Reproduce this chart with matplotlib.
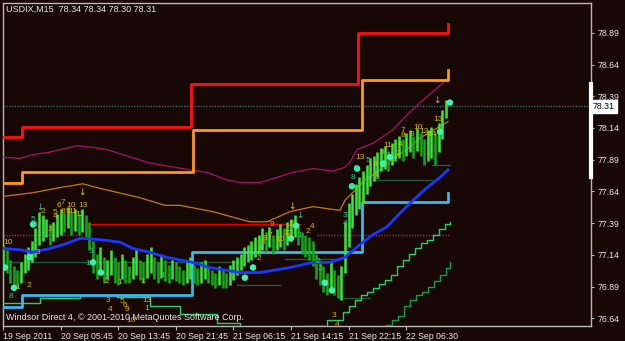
import numpy as np
import matplotlib
matplotlib.use("Agg")
import matplotlib.pyplot as plt
from matplotlib import font_manager
import matplotlib.transforms as mtransforms

# ---------------- font ----------------
fam = "DejaVu Sans"
for cand in ["Liberation Sans Narrow", "Liberation Sans"]:
    try:
        font_manager.findfont(cand, fallback_to_default=False)
        fam = cand
        break
    except Exception:
        pass
plt.rcParams["font.family"] = [fam, "DejaVu Sans"]

# ---------------- data ----------------
title_text = "USDIX,M15  78.34 78.34 78.30 78.31"
footer_text = "Windsor Direct 4, \u00a9 2001-2010 MetaQuotes Software Corp."
last_price = 78.31

x_tick_bars = [0, 32, 64, 96, 128, 160, 192, 224]
x_tick_labels = ["19 Sep 2011", "20 Sep 05:45", "20 Sep 13:45", "20 Sep 21:45",
                 "21 Sep 06:15", "21 Sep 14:15", "21 Sep 22:15", "22 Sep 06:30"]
y_tick_values = [76.64, 76.89, 77.14, 77.39, 77.64, 77.89, 78.14, 78.39, 78.64, 78.89]

# price bars (every second M15 bar)
bar_idx = list(range(0, 248, 2))
bar_high = [77.22, 77.18, 77.10, 77.05, 77.02, 77.08, 77.15, 77.20, 77.25, 77.35,
            77.48, 77.45, 77.42, 77.38, 77.40, 77.46, 77.50, 77.47, 77.52, 77.48,
            77.50, 77.46, 77.50, 77.45, 77.40, 77.25, 77.15, 77.20, 77.12, 77.10,
            77.18, 77.12, 77.08, 77.15, 77.10, 77.05, 77.12, 77.18, 77.10, 77.08,
            77.15, 77.20, 77.12, 77.08, 77.14, 77.10, 77.06, 77.10, 77.08, 77.05,
            77.02, 77.08, 77.12, 77.06, 77.04, 77.08, 77.10, 77.05, 77.02, 77.00,
            77.05, 77.02, 77.00, 77.06, 77.10, 77.12, 77.15, 77.20, 77.22, 77.25,
            77.28, 77.30, 77.35, 77.32, 77.36, 77.30, 77.34, 77.38, 77.35, 77.40,
            77.42, 77.45, 77.38, 77.32, 77.30, 77.28, 77.25, 77.15, 77.10, 77.05,
            77.00, 77.08, 77.02, 76.98, 77.05, 77.40, 77.55, 77.62, 77.70, 77.75,
            77.80, 77.85, 77.90, 77.92, 77.95, 77.98, 78.00, 77.96, 78.02, 78.05,
            78.08, 78.05, 78.10, 78.12, 78.08, 78.14, 78.10, 78.05, 78.12, 78.15,
            78.10, 78.18, 78.28, 78.36]
bar_low = [77.05, 77.00, 76.92, 76.90, 76.88, 76.92, 77.00, 77.02, 77.08, 77.12,
           77.22, 77.25, 77.28, 77.22, 77.25, 77.28, 77.30, 77.32, 77.35, 77.30,
           77.33, 77.30, 77.32, 77.28, 77.18, 77.00, 76.95, 77.00, 76.92, 76.95,
           76.98, 76.92, 76.90, 76.95, 76.92, 76.92, 76.95, 76.98, 76.94, 76.92,
           76.96, 77.00, 76.95, 76.92, 76.96, 76.93, 76.92, 76.95, 76.93, 76.92,
           76.90, 76.92, 76.95, 76.92, 76.90, 76.92, 76.95, 76.92, 76.90, 76.88,
           76.90, 76.88, 76.88, 76.90, 76.94, 76.98, 77.02, 77.05, 77.08, 77.10,
           77.12, 77.15, 77.18, 77.16, 77.20, 77.15, 77.18, 77.20, 77.18, 77.22,
           77.25, 77.28, 77.22, 77.15, 77.12, 77.10, 77.05, 76.95, 76.90, 76.85,
           76.82, 76.88, 76.82, 76.80, 76.78, 77.00, 77.20, 77.35, 77.45, 77.50,
           77.55, 77.62, 77.68, 77.72, 77.75, 77.80, 77.82, 77.80, 77.85, 77.88,
           77.90, 77.88, 77.92, 77.95, 77.90, 77.96, 77.92, 77.85, 77.88, 77.90,
           77.85, 77.95, 78.05, 78.22]

# step bands
red_band_x = [0, 10.6, 104.5, 197.0, 245.5, 247.5]
red_band_y = [78.07, 78.15, 78.49, 78.89, 78.89, 78.96]
orange_band_x = [0, 10.6, 105.5, 199.5, 245.5, 247.5]
orange_band_y = [77.71, 77.79, 78.12, 78.52, 78.52, 78.60]
cyan_band_x = [0, 10.6, 105.0, 199.5, 245.5, 247.5]
cyan_band_y = [76.73, 76.82, 77.16, 77.56, 77.56, 77.63]

# thin envelope lines
magenta_x = [0, 9.4, 16.7, 26.1, 41.1, 48.3, 57.8, 68.9, 80, 91.1, 103.9, 113.3, 124.4,
             131.7, 142.8, 152.2, 161.1, 172.2, 183.3, 190, 192.8, 196.7, 205.6, 216.1,
             224.4, 231.7, 240, 247.2]
magenta_y = [77.91, 77.90, 77.93, 77.95, 78.00, 77.99, 77.97, 77.92, 77.87, 77.84, 77.81,
             77.79, 77.73, 77.71, 77.71, 77.75, 77.79, 77.82, 77.80, 77.83, 77.87, 77.97,
             78.02, 78.12, 78.24, 78.34, 78.44, 78.53]
brown_x = [0, 16.7, 31.7, 44.4, 52.2, 61.1, 76.1, 90, 98.3, 116.7, 137.2, 146.7, 159.4,
           172.2, 187.2, 190, 195.6, 201.1, 209.4, 216.7, 224.4, 231.7, 238.9, 247.2]
brown_y = [77.60, 77.63, 77.67, 77.70, 77.67, 77.64, 77.59, 77.53, 77.53, 77.48, 77.40,
           77.40, 77.48, 77.52, 77.49, 77.57, 77.65, 77.73, 77.81, 77.90, 77.97, 78.06,
           78.12, 78.19]

# moving average
ma_x = [0, 9.4, 16.7, 26.1, 35.6, 42.8, 53.9, 65, 72.2, 81.7, 91.1, 105.6, 115, 131.7,
        142.8, 159.4, 172.2, 181.7, 190, 198.3, 205.6, 213.3, 220.6, 227.8, 235.6, 242.8, 247.2]
ma_y = [77.19, 77.18, 77.16, 77.19, 77.23, 77.27, 77.26, 77.24, 77.19, 77.16, 77.12, 77.08,
        77.04, 77.00, 77.00, 77.04, 77.08, 77.08, 77.12, 77.22, 77.30, 77.36, 77.47, 77.57,
        77.67, 77.75, 77.81]

# lower green trailing lines
green1_x = [0, 20.6, 42.8, 63.3, 81.7, 98.3, 118.9, 131.7, 153.9, 166.7, 180, 188.9, 192.2,
            195.6, 198.9, 202.2, 205.6, 208.9, 212.2, 215.6, 218.9, 222.2, 225.6, 228.9,
            232.2, 235.6, 238.9, 242.2, 245.6, 248.3]
green1_y = [76.76, 76.80, 76.82, 76.81, 76.74, 76.67, 76.60, 76.57, 76.56, 76.58, 76.63,
            76.69, 76.74, 76.78, 76.82, 76.85, 76.88, 76.91, 76.94, 76.98, 77.05, 77.10,
            77.15, 77.19, 77.23, 77.26, 77.30, 77.34, 77.38, 77.40]
green2_x = [209.4, 212.8, 216.1, 219.4, 222.8, 226.1, 229.4, 232.8, 236.1, 239.4, 242.8,
            246.1, 248.3]
green2_y = [76.57, 76.59, 76.63, 76.66, 76.74, 76.78, 76.82, 76.85, 76.89, 76.93, 76.98,
            77.04, 77.08]

# horizontal level segments: (start bar, end bar, price)
dark_levels = [(0, 130, 77.08), (130, 154, 76.90), (156.7, 187.2, 77.11),
               (189, 204, 76.80), (205.6, 238.3, 77.73), (238.3, 248.3, 77.85)]
red_levels = [(47, 165, 77.38)]
magenta_levels = [(0, 44.4, 77.30), (174.4, 248.3, 77.30)]

# signal dots
dot_x = [1.1, 6.1, 15, 16.7, 50, 54.4, 134.4, 138.9, 162.8, 160, 178.9, 182.8,
         193.9, 196.7, 211.1, 215, 242.8, 248.3]
dot_y = [77.04, 76.88, 77.12, 77.38, 77.08, 77.00, 76.96, 77.04, 77.37, 77.27, 76.92,
         76.86, 77.68, 77.82, 77.86, 77.91, 78.11, 78.34]

# count labels (bar, price, text)
yellow_labels = [
    (2.8, 77.24, "10"), (22.2, 77.48, "2"), (31.1, 77.53, "6"), (33.3, 77.55, "7"),
    (37.8, 77.53, "10"), (44.4, 77.53, "13"), (28.9, 77.47, "5"), (28.9, 77.44, "4"),
    (33.3, 77.48, "8"), (36.1, 77.48, "9"), (38.6, 77.48, "11"), (42.8, 77.46, "12"),
    (26.1, 77.34, "3"), (19.4, 77.16, "3"), (8.3, 76.88, "1"), (14.4, 76.90, "2"),
    (57.8, 76.93, "2"), (65, 76.92, "1"), (77.8, 76.93, "1"), (58.3, 76.78, "3"),
    (59.4, 76.71, "4"), (66.1, 76.77, "5"), (67.8, 76.74, "6"), (68.9, 76.71, "9"),
    (80, 76.78, "13"), (80, 76.72, "1"), (71, 76.62, "10"),
    (149.4, 77.38, "9"), (160.6, 77.38, "13"), (171.7, 77.36, "4"), (169.4, 77.32, "2"),
    (158.3, 77.31, "12"), (153.9, 77.26, "10"), (148.3, 77.29, "7"), (145.6, 77.27, "8"),
    (144.4, 77.24, "5"), (142.8, 77.19, "3"), (142.2, 77.11, "2"),
    (241.7, 78.21, "13"), (222.2, 78.12, "7"), (222.2, 78.08, "8"), (230.6, 78.14, "10"),
    (227.2, 78.09, "9"), (233.9, 78.11, "12"), (238.3, 78.09, "14"), (220.6, 78.01, "4"),
    (213.9, 78.00, "11"), (210.6, 77.95, "8"), (219.4, 77.94, "2"), (198.3, 77.91, "13"),
    (206.7, 77.85, "4"), (207.8, 77.75, "3"), (183.9, 76.66, "3"), (185.6, 76.59, "4")]
teal_labels = [
    (4.4, 76.81, "8"), (16.7, 77.42, "5"), (17.8, 77.38, "6"), (47.2, 77.07, "1"),
    (48.9, 77.17, "3"), (88.9, 76.98, "1"), (190, 77.45, "3"), (190, 77.39, "4"),
    (193.9, 77.67, "6"), (194.4, 77.75, "8"), (196.1, 77.82, "9"), (165, 77.29, "1"),
    (175, 77.09, "2"), (176, 77.03, "2"), (203, 77.88, "5")]
yellow_arrows = [(43.9, 77.63), (160.6, 77.52), (241.1, 78.36)]
teal_arrows = [(20.6, 77.51), (165, 77.45)]

# ---------------- drawing ----------------
BG = "#170806"
W, H = 625, 341
fig = plt.figure(figsize=(W / 100, H / 100), dpi=100, facecolor=BG)
ax = fig.add_axes([3 / W, 15 / H, 588 / W, 323 / H], facecolor=BG)
ax.set_xlim(0, 326.7)
ax.set_ylim(76.579, 79.125)

# current price dotted line
ax.axhline(last_price, color="#3f6a6a", lw=1.0, ls=(0, (1, 1)), zorder=1)

# horizontal levels
for s, e, v in dark_levels:
    ax.plot([s, e], [v, v], color="#1d5a3c", lw=1.0, zorder=2)
for s, e, v in red_levels:
    ax.plot([s, e], [v, v], color="#e00000", lw=1.0, zorder=2)
for s, e, v in magenta_levels:
    ax.plot([s, e], [v, v], color="#b0148c", lw=1.0, ls=(0, (1, 1)), zorder=2)

# envelopes
ax.plot(magenta_x, magenta_y, color="#a8106c", lw=0.9, zorder=3)
ax.plot(brown_x, brown_y, color="#c8780c", lw=0.9, zorder=3)

# step bands
ax.plot(red_band_x, red_band_y, drawstyle="steps-post", color="#ff1010", lw=2.0, zorder=4)
ax.plot(orange_band_x, orange_band_y, drawstyle="steps-post", color="#ff9a10", lw=2.0, zorder=4)
ax.plot(cyan_band_x, cyan_band_y, drawstyle="steps-post", color="#38b8f0", lw=2.0, zorder=4)

# trailing green lines
ax.plot(green1_x, green1_y, drawstyle="steps-post", color="#22d070", lw=1.0, zorder=3)
ax.plot(green2_x, green2_y, drawstyle="steps-post", color="#129a50", lw=1.0, zorder=3)

# price bars
hi = np.array(bar_high)
lo = np.array(bar_low)
mid = (hi + lo) / 2
up = np.concatenate([[True], mid[1:] >= mid[:-1]])
cols = np.where(up, "#3ae83a", "#16a816")
ax.vlines(bar_idx, lo, hi, colors=cols, lw=1.8, zorder=5)

# moving average
ax.plot(ma_x, ma_y, color="#1838ff", lw=2.0, zorder=6, solid_joinstyle="miter")

# dots
ax.scatter(dot_x, dot_y, s=22, color="#40f0b0", edgecolors="none", zorder=7)

# labels
for bx, py, t in yellow_labels:
    ax.text(bx, py, t, color="#d8b400", fontsize=6.0, ha="center", va="center", zorder=8)
for bx, py, t in teal_labels:
    ax.text(bx, py, t, color="#30c890", fontsize=6.0, ha="center", va="center", zorder=8)
for bx, py in yellow_arrows:
    ax.text(bx, py, "\u2193", color="#e8c000", fontsize=6.5, ha="center", va="center",
            family="DejaVu Sans", zorder=8)
for bx, py in teal_arrows:
    ax.text(bx, py, "\u2193", color="#30c890", fontsize=6.5, ha="center", va="center",
            family="DejaVu Sans", zorder=8)

# spines and ticks
for sp in ax.spines.values():
    sp.set_color("#b8b8b8")
    sp.set_linewidth(1.0)

ax.yaxis.tick_right()
ax.set_yticks(y_tick_values)
ax.set_yticklabels([f"{v:.2f}" for v in y_tick_values])
ax.set_xticks(x_tick_bars)
ax.set_xticklabels(x_tick_labels)
for lab in ax.get_xticklabels():
    lab.set_horizontalalignment("left")
ax.tick_params(axis="y", direction="out", length=2.5, width=0.8, color="#b8b8b8",
               labelsize=6.3, labelcolor="#e8e8e8", pad=2)
ax.tick_params(axis="x", direction="out", length=3, width=0.8, color="#b8b8b8",
               labelsize=6.3, labelcolor="#e8e8e8", pad=1.5)

# right-border white bar
ax.plot([326.7, 326.7], [77.75, 78.49], color="white", lw=3, clip_on=False, zorder=9)

# current price box
trans = mtransforms.blended_transform_factory(ax.transAxes, ax.transData)
ax.text(1.003, last_price, f"{last_price:.2f}", transform=trans, ha="left", va="center",
        fontsize=6.3, color="black", clip_on=False, zorder=10,
        bbox=dict(boxstyle="square,pad=0.2", fc="white", ec="white"))

fig.text(6 / W, 1 - 9 / H, title_text, color="#e8e8e8", fontsize=6.5, ha="left", va="center")
fig.text(6 / W, 1 - 318 / H, footer_text, color="#e8e8e8", fontsize=6.5, ha="left", va="center")

fig.savefig("out.png", dpi=100, facecolor=BG)
